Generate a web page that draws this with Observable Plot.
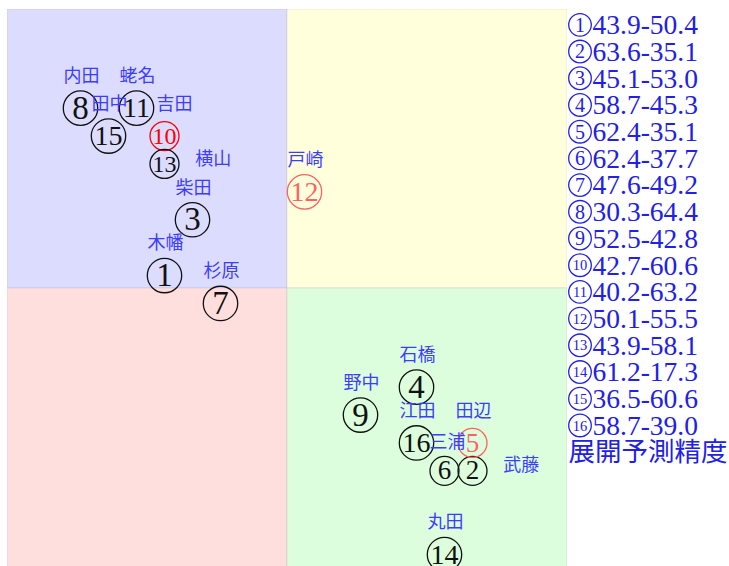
<!DOCTYPE html>
<html>
<head>
<meta charset="utf-8">
<script src="https://cdn.jsdelivr.net/npm/d3@7"></script>
<script src="https://cdn.jsdelivr.net/npm/@observablehq/plot@0.6"></script>
<style>
  html, body { margin: 0; padding: 0; background: #fff; }
  #wrap { position: relative; width: 729px; height: 566px; overflow: hidden; }
  #chart { position: absolute; left: 7px; top: 9px; }
  #legend { position: absolute; left: 566px; top: 0px; }
</style>
</head>
<body>
<div id="wrap"><div id="chart"></div><div id="legend"></div></div>
<script>
// horse numbers, jockeys and the two prediction values shown in the legend
const numbers = [1,2,3,4,5,6,7,8,9,10,11,12,13,14,15,16];
const jockeys = ["木幡","武藤","柴田","石橋","田辺","三浦","杉原","内田","野中","吉田","蛯名","戸崎","横山","丸田","田中","江田"];
const xValues = [43.9,63.6,45.1,58.7,62.4,62.4,47.6,30.3,52.5,42.7,40.2,50.1,43.9,61.2,36.5,58.7];
const yValues = [50.4,35.1,53.0,45.3,35.1,37.7,49.2,64.4,42.8,60.6,63.2,55.5,58.1,17.3,60.6,39.0];
// grid cell each horse occupies in the 20x20 map (column from left, row from top)
const gridCol = [5,16,6,14,16,15,7,2,12,5,4,10,5,15,3,14];
const gridRow = [9,16,7,13,15,16,10,3,14,4,3,6,5,19,4,15];
// highlight class: 0 normal, 1 main pick, 2 secondary pick
const pick = [0,0,0,0,2,0,0,0,0,1,0,2,0,0,0,0];
// glyph tier: 0 large, 1 small
const tier = [0,1,0,0,1,1,0,0,0,1,0,0,1,0,0,0];
// name label placement relative to its cell
const namePlace = ["above","right","above","above","above","above-r","above","above","above","above-r2","above","above","right","above","above","above"];
const legendTitle = "展開予測精度";
const splitCell = 10, gridN = 20;

const horses = numbers.map((n, i) => ({
  num: n, name: jockeys[i], xv: xValues[i], yv: yValues[i],
  col: gridCol[i], row: gridRow[i], pick: pick[i], tier: tier[i], place: namePlace[i]
}));
const quadrants = [
  {x1: 0, x2: splitCell, y1: 0, y2: splitCell, fill: "#dcdcfe"},
  {x1: splitCell, x2: gridN, y1: 0, y2: splitCell, fill: "#ffffdc"},
  {x1: 0, x2: splitCell, y1: splitCell, y2: gridN, fill: "#ffdede"},
  {x1: splitCell, x2: gridN, y1: splitCell, y2: gridN, fill: "#dcfedc"}
];
const nameOffset = {
  "above": [0.14, -1.11], "above-r": [0.21, -0.98], "above-r2": [0.46, -1.09], "right": [1.85, -0.15]
};
const digitSize = d => d.tier ? (d.num > 9 ? 24 : 27) : (d.num > 9 ? 28 : 33);

const chart = Plot.plot({
  width: 560, height: 558, margin: 0,
  x: {domain: [0, gridN], axis: null},
  y: {domain: [0, gridN], reverse: true, axis: null},
  r: {type: "identity"},
  color: {domain: [0, 1, 2], range: ["#111111", "#ff0000", "#ff6262"]},
  style: {background: "transparent"},
  marks: [
    ...quadrants.map(q => Plot.rect([q], {x1: "x1", x2: "x2", y1: "y1", y2: "y2", fill: q.fill, stroke: "#b0a0c0", strokeOpacity: 0.25})),
    Plot.dot(horses, {
      x: d => d.col + 0.5, y: d => d.row + 0.5, r: d => d.tier ? 14.5 : 17.2,
      stroke: "pick", fill: "none", strokeWidth: 1.3, dx: 3, dy: 1
    }),
    Plot.text(horses, {
      x: d => d.col + 0.5, y: d => d.row + 0.5, text: d => String(d.num),
      fill: "pick", fontSize: digitSize, dx: 3, dy: 1,
      fontFamily: "'Liberation Serif', serif", lineAnchor: "middle"
    }),
    Plot.text(horses, {
      x: d => d.col + 0.5 + nameOffset[d.place][0], y: d => d.row + 0.5 + nameOffset[d.place][1],
      text: "name", fill: "#3d3dff", fontSize: 18,
      fontFamily: "'Noto Sans CJK JP', sans-serif", lineAnchor: "middle"
    })
  ]
});
document.getElementById("chart").appendChild(chart);

// legend: one line per horse, then the title line
const legendBlue = "#2020e6";
const lines = horses.length + 1;
const lineH = 26.7, legendTop = 11;
const legendChart = Plot.plot({
  width: 163, height: Math.round(legendTop + lines * lineH + 8), margin: 0,
  marginTop: legendTop, marginBottom: 8, marginLeft: 2,
  x: {domain: [0, 1], axis: null},
  y: {domain: [0, lines], reverse: true, axis: null},
  r: {type: "identity"},
  style: {background: "transparent", overflow: "visible"},
  marks: [
    Plot.dot(horses, {x: 0, y: (d, i) => i + 0.5, r: 11.3, stroke: legendBlue, strokeWidth: 1.3, fill: "none", dx: 11.5}),
    Plot.text(horses, {
      x: 0, y: (d, i) => i + 0.5, text: d => String(d.num), dx: 11.5, dy: 0.5,
      fill: legendBlue, fontSize: d => d.num > 9 ? 14.5 : 20, fontFamily: "'Liberation Serif', serif", lineAnchor: "middle"
    }),
    Plot.text(horses, {
      x: 0, y: (d, i) => i + 0.5, text: d => `${d.xv.toFixed(1)}-${d.yv.toFixed(1)}`, dx: 24, dy: 0.5,
      textAnchor: "start", fill: legendBlue, fontSize: 27.5, fontFamily: "'Liberation Serif', serif", lineAnchor: "middle"
    }),
    Plot.text([legendTitle], {
      x: 0, y: lines - 0.5, text: d => d, textAnchor: "start",
      fill: legendBlue, fontSize: 26.5, fontFamily: "'Noto Sans CJK JP', sans-serif", lineAnchor: "middle"
    })
  ]
});
document.getElementById("legend").appendChild(legendChart);
</script>
</body>
</html>
